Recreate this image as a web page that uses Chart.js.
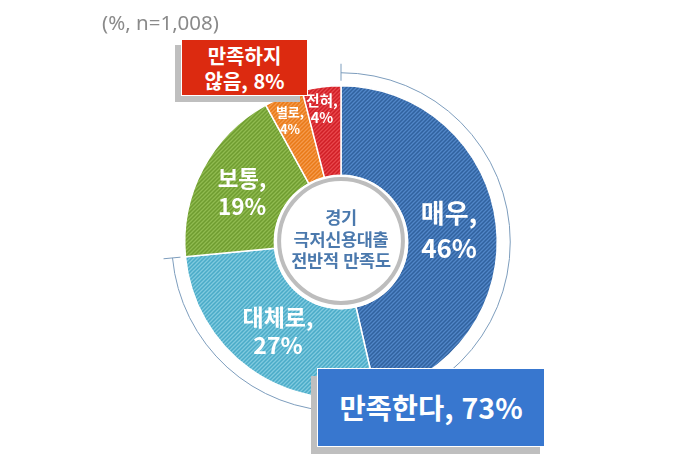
<!DOCTYPE html>
<html lang="ko"><head><meta charset="utf-8">
<style>
html,body{margin:0;padding:0;background:#fff;width:680px;height:454px;overflow:hidden}
#wrap{position:relative;width:680px;height:454px;font-family:"Noto Sans CJK KR","Noto Sans",sans-serif}
canvas{position:absolute;left:0;top:0}
.t{position:absolute;transform:translate(-50%,-50%);text-align:center;white-space:nowrap;color:#fff;font-weight:700}
.box{position:absolute;box-sizing:border-box;border:1.5px solid #fff;color:#fff;font-weight:700;display:flex;align-items:center;justify-content:center;text-align:center}
.sh{position:absolute;background:#bfbfbf}
</style></head><body>
<div id="wrap">
<canvas id="c" width="680" height="454"></canvas>
<div style="position:absolute;left:102px;top:9px;font:20.5px 'Noto Sans','Noto Sans CJK KR',sans-serif;color:#8a8a8a;line-height:26px">(%, n=1,008)</div>
<div class="sh" style="left:175px;top:45px;width:125px;height:57px"></div>
<div class="box" style="left:181px;top:39px;width:127px;height:57px;background:#dc2a10;font-size:20px;line-height:25px">만족하지<br>않음, 8%</div>
<div class="sh" style="left:311px;top:376px;width:229px;height:78px"></div>
<div class="box" style="left:317px;top:368px;width:228px;height:79px;background:#3877cf;font-size:28.5px;padding-bottom:2px">만족한다, 73%</div>
<div class="t" style="left:449px;top:229px;font-size:26px;line-height:35px">매우,<br>46%</div>
<div class="t" style="left:278px;top:330px;font-size:23px;line-height:28px">대체로,<br>27%</div>
<div class="t" style="left:242px;top:191px;font-size:22.5px;line-height:28px">보통,<br>19%</div>
<div class="t" style="left:290px;top:120px;font-size:13px;line-height:16.5px">별로,<br>4%</div>
<div class="t" style="left:322px;top:108px;font-size:14.5px;line-height:17px">전혀,<br>4%</div>
<div class="t" style="left:341px;top:238px;font-size:17.5px;line-height:21.5px;color:#4b79ad;letter-spacing:-.3px">경기<br>극저신용대출<br>전반적 만족도</div>
</div>
<script src="https://cdn.jsdelivr.net/npm/chart.js@4/dist/chart.umd.min.js"></script>
<script>
const categories = ["매우","대체로","보통","별로","전혀"];
const shareValues = [46.4,27.1,18.5,4,4];
const stripeA = ["#31629f","#4aabc8","#6f9c30","#e97a18","#d01f26"];
const stripeB = ["#5186c8","#80cadf","#90bb50","#f59a4c","#e8474c"];
const satisfiedCount = 2;

function hatch(a,b){
  const s=4,p=document.createElement('canvas');p.width=p.height=s;
  const g=p.getContext('2d');g.fillStyle=a;g.fillRect(0,0,s,s);
  g.strokeStyle=b;g.lineWidth=1.3;g.beginPath();
  g.moveTo(-1,1);g.lineTo(1,-1);g.moveTo(-1,5);g.lineTo(5,-1);g.moveTo(3,5);g.lineTo(5,3);g.stroke();
  return g.createPattern(p,'repeat');
}
const centerAndBracket={id:'centerAndBracket',afterDatasetsDraw(chart){
  const m=chart.getDatasetMeta(0),a0=m.data[0],{x,y,innerRadius:ri,outerRadius:ro}=a0.getProps(['x','y','innerRadius','outerRadius'],true);
  const ctx=chart.ctx,start=a0.startAngle,end=m.data[satisfiedCount-1].endAngle,r=ro+13;
  ctx.save();
  ctx.beginPath();ctx.arc(x,y,ri+1,0,Math.PI*2);ctx.fillStyle='#fff';ctx.fill();
  ctx.beginPath();ctx.arc(x,y-1,ri-4.5,0,Math.PI*2);ctx.lineWidth=4;ctx.strokeStyle='#bdbdbd';ctx.stroke();
  ctx.strokeStyle='#7d9dbd';ctx.lineWidth=1;
  ctx.beginPath();ctx.arc(x,y,r,start,end);ctx.stroke();
  for(const t of [start,end]){ctx.beginPath();ctx.moveTo(x+Math.cos(t)*(r-8),y+Math.sin(t)*(r-8));ctx.lineTo(x+Math.cos(t)*(r+9),y+Math.sin(t)*(r+9));ctx.stroke();}
  ctx.restore();
}};
new Chart(document.getElementById('c'),{
  type:'doughnut',
  data:{labels:categories,datasets:[{data:shareValues,
    backgroundColor:stripeA.map((c,i)=>hatch(c,stripeB[i])),
    borderColor:'#fff',borderWidth:1.5,borderAlign:'center'}]},
  options:{responsive:false,animation:false,devicePixelRatio:1,cutout:'42.5%',
    layout:{padding:{left:184,right:182,top:85,bottom:55}},
    plugins:{legend:{display:false},tooltip:{enabled:false},title:{display:false}}},
  plugins:[centerAndBracket]
});
</script>
</body></html>
